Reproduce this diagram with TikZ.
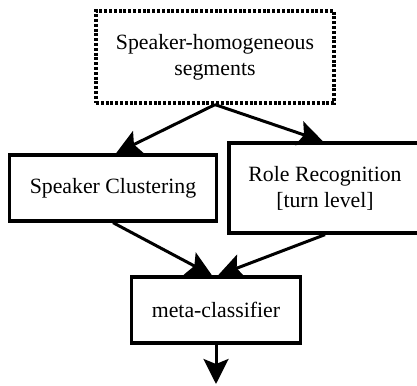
\documentclass[tikz,border=0pt]{standalone}
\usepackage{fontspec}
\setmainfont{Liberation Serif}
\usetikzlibrary{arrows.meta,positioning}

\tikzset{
  box/.style = {draw, line width = 3.3pt, align = center, inner sep = 0pt,
    font = \fontsize{21.8}{26}\selectfont},
  dotbox/.style = {box, line width = 3.2pt, dash pattern = on 3pt off 1.8pt},
  flow/.style = {-{Stealth[length = 25pt, width = 25pt, inset = 5pt]}, line width = 3pt}
}

\begin{document}
\begin{tikzpicture}[x = 1pt, y = -1pt]
\useasboundingbox (0,0) rectangle (417,385);
\node[dotbox, minimum width = 238pt, minimum height = 92pt] (seg) at (215,57) {Speaker-homogeneous\\segments};
\node[box, minimum width = 207pt, minimum height = 66pt] (clust) at (113,188) {Speaker Clustering};
\node[box, minimum width = 192pt, minimum height = 90pt] (role) at (325,188) {Role Recognition\\{}[turn level]};
\node[box, minimum width = 169pt, minimum height = 66pt] (meta) at (216,310) {meta-classifier};
\coordinate (out) at (216,384);
\draw[flow] (seg.south) -- ([xshift = 3pt]clust.north);
\draw[flow] (seg.south) -- ([xshift = -2pt]role.north);
\draw[flow] (clust.south) -- ([xshift = -4pt]meta.north);
\draw[flow] (role.south) -- ([xshift = 2pt]meta.north);
\draw[flow] (meta.south) -- (out);
\end{tikzpicture}
\end{document}
